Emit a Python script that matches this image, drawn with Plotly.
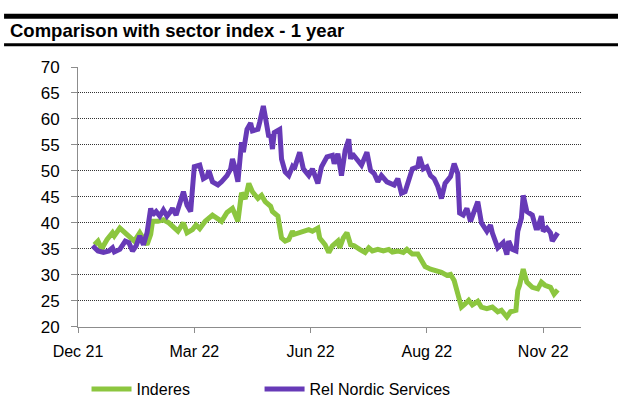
import plotly.graph_objects as go

# Trading-session index (0 = first session shown on the axis)
tick_sessions = [0, 64, 128, 192, 256]
tick_labels = ["Dec 21", "Mar 22", "Jun 22", "Aug 22", "Nov 22"]

inderes_session = [9, 11, 13, 16, 19, 20, 23, 26, 29, 31, 34, 36, 38, 40, 41, 44, 47, 50, 52, 55,
                   58, 60, 63, 65, 67, 70, 74, 76, 79, 82, 85, 86, 88, 90, 92, 94, 96, 99, 101, 103,
                   106, 107, 110, 112, 114, 116, 118, 119, 122, 125, 127, 129, 132, 133, 136, 138, 140, 143, 144, 146,
                   148, 150, 152, 155, 158, 160, 162, 165, 168, 171, 173, 176, 179, 181, 184, 187, 189, 191, 194, 198,
                   200, 203, 205, 207, 209, 211, 213, 215, 217, 220, 222, 225, 228, 231, 233, 236, 238, 241, 242, 243,
                   245, 247, 250, 253, 255, 257, 260, 262, 264]
inderes_value = [35.8, 36.5, 35.0, 36.8, 38.1, 37.5, 39.0, 38.1, 37.1, 36.5, 38.1, 37.1, 35.8, 37.8, 40.3, 40.3, 40.6, 40.0, 39.4, 38.4,
                 40.0, 38.1, 38.7, 39.6, 38.9, 40.3, 41.5, 41.1, 40.3, 42.0, 42.8, 42.0, 40.3, 45.8, 44.6, 47.6, 46.0, 44.7, 45.3, 44.1,
                 43.2, 42.2, 41.3, 37.1, 36.5, 36.8, 38.4, 37.8, 38.1, 38.4, 38.7, 38.4, 39.0, 37.1, 35.8, 34.3, 35.6, 36.5, 35.2, 37.1,
                 38.1, 35.8, 35.6, 34.9, 34.3, 35.2, 34.6, 34.9, 34.6, 34.9, 34.4, 34.6, 34.3, 34.9, 34.0, 34.0, 33.0, 31.6, 31.1, 30.8,
                 30.5, 29.9, 30.1, 28.9, 26.7, 23.8, 24.4, 25.1, 24.2, 24.9, 23.8, 23.5, 23.8, 22.9, 23.2, 21.9, 22.9, 23.2, 27.0, 28.0,
                 31.1, 28.6, 27.6, 27.3, 28.6, 28.0, 27.6, 26.3, 27.1]

sector_session = [8, 11, 14, 17, 19, 20, 23, 26, 28, 30, 32, 34, 36, 38, 40, 41, 43, 45, 47, 49,
                  51, 52, 54, 56, 58, 60, 62, 63, 64, 67, 69, 71, 72, 74, 77, 79, 82, 84, 85, 86,
                  88, 90, 91, 93, 95, 96, 99, 100, 102, 103, 105, 106, 107, 108, 111, 112, 114, 116, 118, 119,
                  122, 124, 127, 129, 130, 132, 134, 137, 140, 141, 143, 145, 147, 149, 150, 151, 154, 156, 159, 161,
                  163, 165, 167, 170, 174, 176, 178, 180, 182, 184, 187, 188, 190, 192, 194, 196, 198, 200, 202, 205,
                  207, 209, 210, 212, 214, 216, 218, 220, 222, 225, 227, 228, 231, 232, 234, 236, 237, 239, 241, 242,
                  244, 245, 247, 250, 252, 253, 255, 256, 258, 260, 261, 264]
sector_value = [35.6, 34.6, 34.3, 34.6, 35.2, 34.4, 34.9, 36.5, 36.2, 34.6, 35.6, 37.5, 35.8, 38.1, 42.8, 41.5, 42.2, 41.3, 42.5, 41.3,
                42.2, 42.8, 41.5, 44.1, 46.0, 43.4, 42.2, 46.6, 50.8, 51.1, 48.5, 48.9, 50.1, 47.9, 47.3, 47.9, 49.1, 50.4, 52.3, 51.1,
                47.9, 55.5, 53.6, 58.0, 59.2, 57.7, 58.0, 59.4, 62.5, 60.6, 56.5, 57.0, 54.2, 57.4, 58.0, 52.3, 49.8, 49.1, 50.8, 50.4,
                53.6, 50.4, 49.1, 50.4, 49.5, 47.6, 50.8, 52.7, 53.0, 51.4, 53.3, 49.1, 53.9, 56.1, 52.3, 53.3, 52.0, 51.1, 53.6, 50.1,
                49.5, 47.9, 49.1, 47.9, 47.3, 48.5, 45.7, 46.0, 48.2, 50.4, 50.8, 52.7, 50.4, 50.8, 49.1, 48.5, 47.0, 44.7, 47.6, 48.9,
                51.4, 49.5, 41.9, 41.5, 42.8, 40.3, 42.2, 44.1, 40.0, 38.4, 39.6, 38.1, 35.2, 35.6, 36.2, 33.9, 36.5, 34.9, 34.6, 38.4,
                40.9, 45.3, 42.2, 41.5, 39.0, 39.0, 41.3, 38.4, 39.0, 38.1, 36.5, 38.1]

GREEN = "#8cc63f"
PURPLE = "#673ab7"
AXIS_GREY = "#8c8c8c"
FONT = "Liberation Sans, Arial, sans-serif"

fig = go.Figure()
fig.add_trace(go.Scatter(x=inderes_session, y=inderes_value, mode="lines", name="Inderes",
                         line=dict(color=GREEN, width=5, shape="linear"), legend="legend"))
fig.add_trace(go.Scatter(x=sector_session, y=sector_value, mode="lines", name="Rel Nordic Services",
                         line=dict(color=PURPLE, width=5, shape="linear"), legend="legend2"))

legend_common = dict(orientation="h", xref="container", yref="container", xanchor="left",
                     y=0.025, yanchor="middle", font=dict(family=FONT, size=16, color="black"),
                     bgcolor="rgba(0,0,0,0)", itemwidth=40)

fig.update_layout(
    width=618, height=399,
    margin=dict(l=78, r=37, t=67, b=69),
    paper_bgcolor="white", plot_bgcolor="white",
    font=dict(family=FONT, size=16, color="black"),
    showlegend=True,
    legend=dict(x=0.140, **legend_common),
    legend2=dict(x=0.420, **legend_common),
    xaxis=dict(range=[0, 276.8], tickmode="array", tickvals=tick_sessions, ticktext=tick_labels,
               showgrid=False, zeroline=False, showline=True, linecolor=AXIS_GREY, linewidth=1,
               ticks="outside", ticklen=5, tickcolor=AXIS_GREY, tickfont=dict(size=16),
               ticklabelstandoff=5),
    yaxis=dict(range=[20, 70], tickmode="array", tickvals=list(range(20, 71, 5)),
               showgrid=True, gridcolor="#333333", gridwidth=1, griddash="1px,1px",
               zeroline=False, showline=True, linecolor=AXIS_GREY, linewidth=1,
               ticks="outside", ticklen=6, tickcolor=AXIS_GREY, tickfont=dict(size=17),
               ticklabelstandoff=8),
)

# Heading with rules above and below
fig.add_shape(type="rect", xref="paper", yref="paper", x0=-0.147, x1=1.08, y0=1.186, y1=1.2053,
              fillcolor="black", line_width=0, layer="above")
fig.add_shape(type="rect", xref="paper", yref="paper", x0=-0.147, x1=1.08, y0=1.0798, y1=1.0913,
              fillcolor="black", line_width=0, layer="above")
fig.add_annotation(text="<b>Comparison with sector index - 1 year</b>", xref="paper", yref="paper",
                   x=-0.139, y=1.1407, xanchor="left", yanchor="middle", showarrow=False,
                   font=dict(family=FONT, size=18.5, color="black"))

fig.write_html("out.html")
